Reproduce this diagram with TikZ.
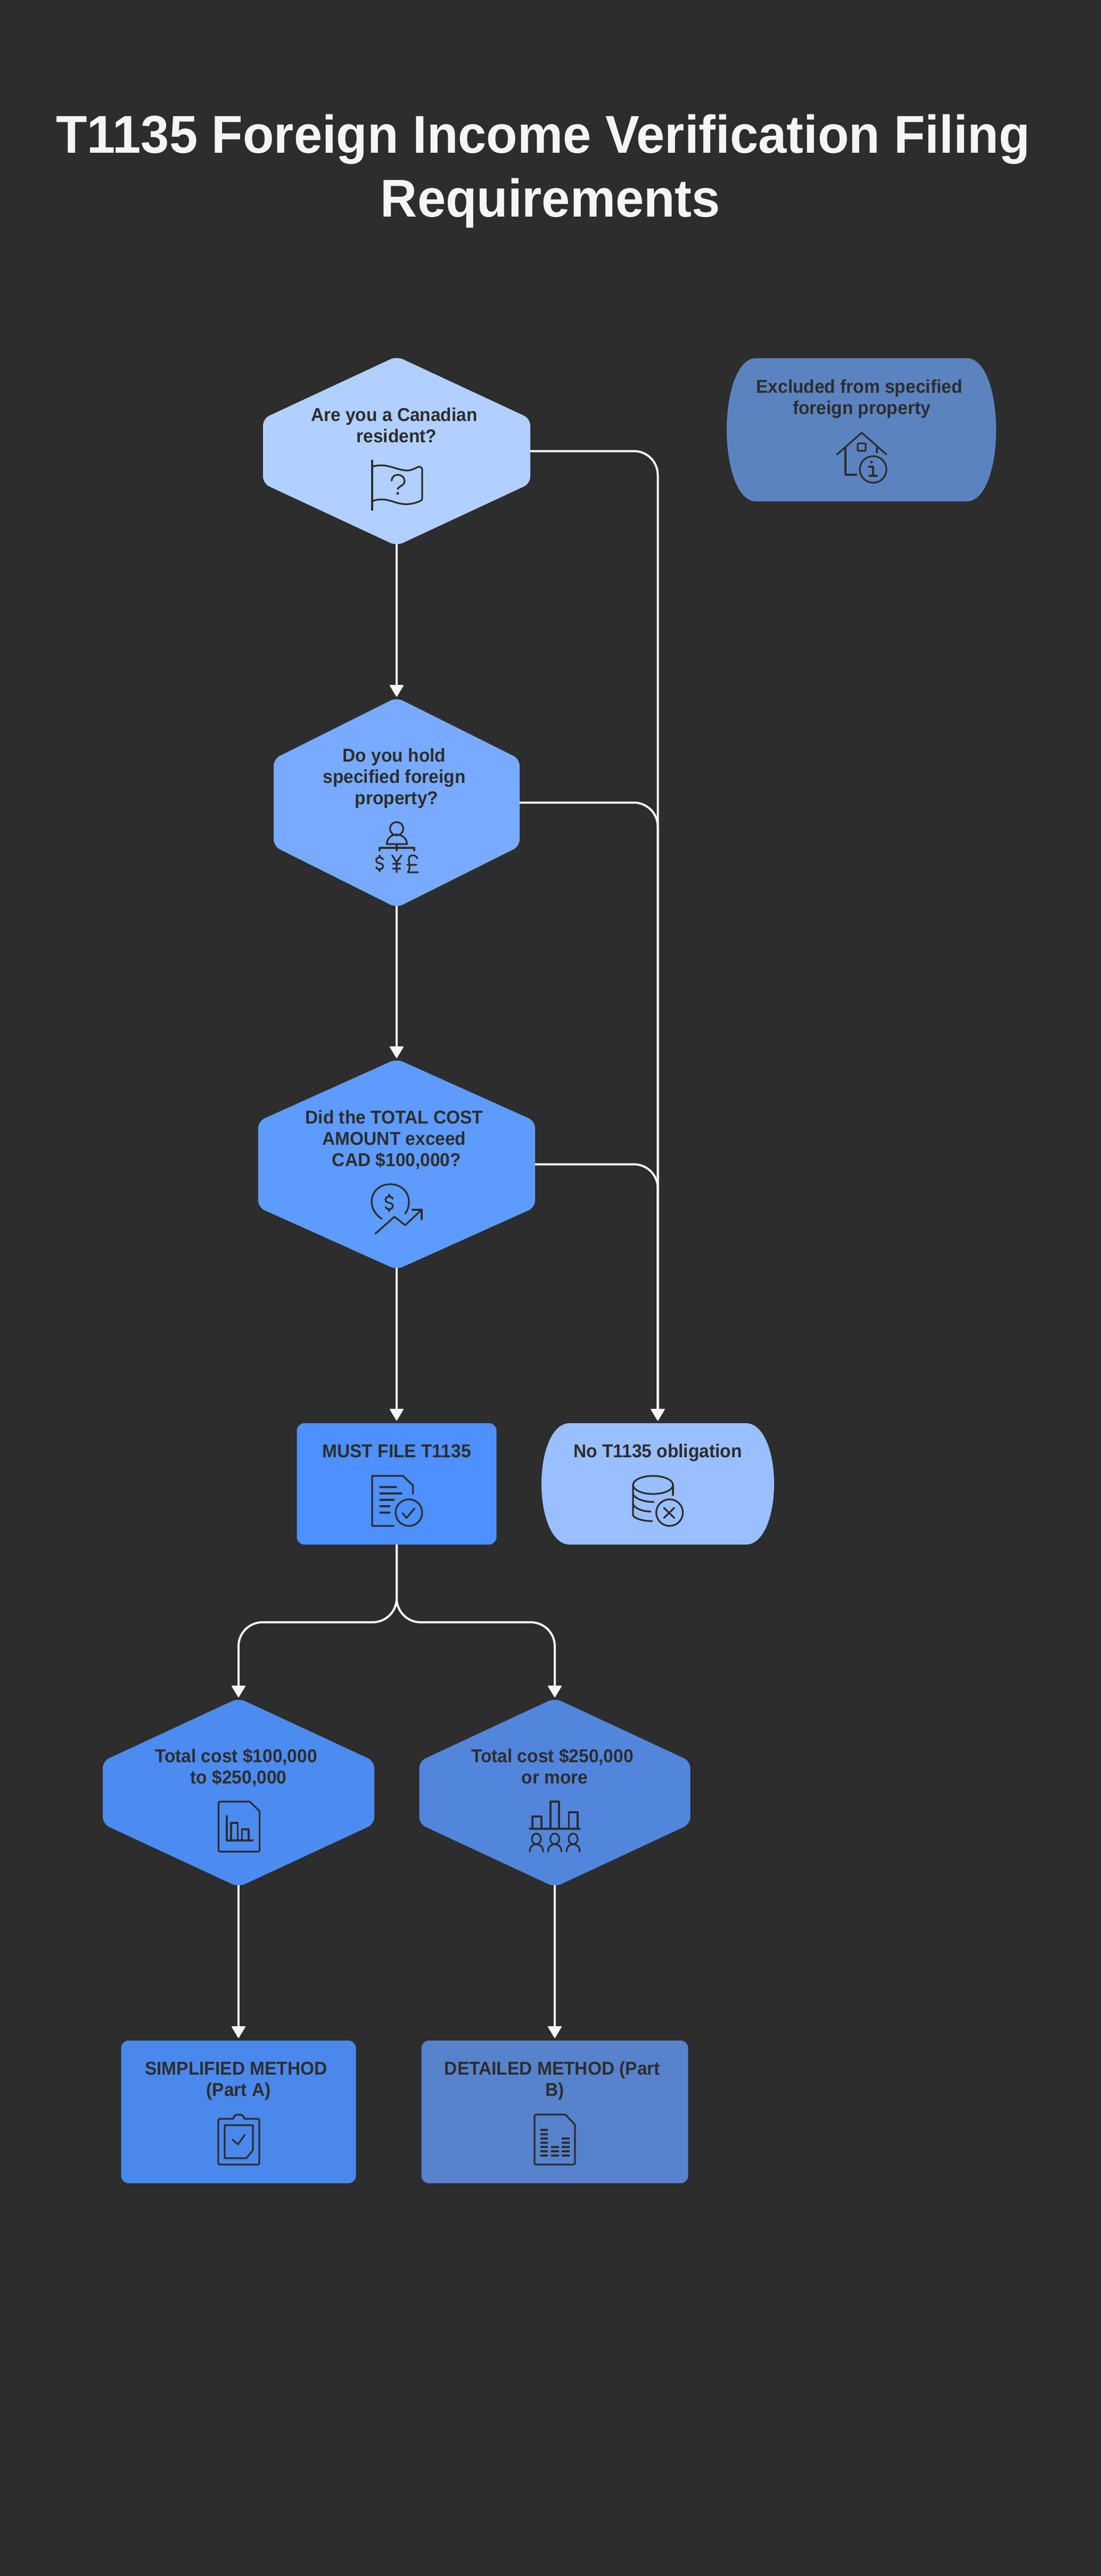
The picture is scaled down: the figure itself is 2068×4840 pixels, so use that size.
\documentclass[tikz,border=0pt]{standalone}
\usepackage{fontspec}
\usetikzlibrary{arrows.meta}
\setmainfont[FakeStretch=0.957]{Liberation Sans}
\definecolor{bgc}{HTML}{2D2D2D}
\definecolor{inkc}{HTML}{2D2D2D}
\definecolor{linec}{HTML}{F5F5F5}
\definecolor{c1}{HTML}{B1D0FF}
\definecolor{c2}{HTML}{78ABFF}
\definecolor{c3}{HTML}{5E9BFF}
\definecolor{cMust}{HTML}{4D90FE}
\definecolor{cNo}{HTML}{99BFFF}
\definecolor{cEx}{HTML}{5B83C0}
\definecolor{c4}{HTML}{4C8BF0}
\definecolor{c5}{HTML}{5285DC}
\definecolor{cSi}{HTML}{4A88EB}
\definecolor{cDe}{HTML}{5782CC}
\newcommand{\stl}{\vrule height 30pt depth 10pt width 0pt}
\newcommand{\stt}{\vrule height 90pt depth 30pt width 0pt}
\newcommand{\tsp}{\rule{9pt}{0pt}}
\tikzset{
  frame/.style={rectangle,inner sep=0pt,outer sep=0pt,draw=none},
  lbl/.style={anchor=north,inner sep=0pt,outer sep=0pt,align=center,text=inkc,font=\fontsize{35}{40}\selectfont\bfseries},
  ttl/.style={anchor=north,inner sep=0pt,outer sep=0pt,align=center,text=linec,font=\fontsize{100}{120}\selectfont\bfseries},
  conn/.style={draw=linec,line width=4pt,shorten >=5pt,-{Triangle[length=23pt,width=27pt,round,line width=2pt]}},
  icon/.style={draw=inkc,line width=3.2pt,line cap=round,line join=round},
}
\newcommand{\hexn}[7]{%
  \fill[#7,rounded corners=13pt] (#2,{#3-#5-3.5}) -- ({#2+#4},{#3-#6}) -- ({#2+#4},{#3+#6}) -- (#2,{#3+#5+3.5}) -- ({#2-#4},{#3+#6}) -- ({#2-#4},{#3-#6}) -- cycle;
  \node[frame,minimum width={2*#4},minimum height={2*#5}] (#1) at (#2,#3) {};}
\newcommand{\boxn}[6]{%
  \node[frame,fill=#6,rounded corners=14pt,minimum width={2*#4},minimum height={2*#5}] (#1) at (#2,#3) {};}
\newcommand{\bulge}[7]{%
  \fill[#7] ({#2-#4+#6},{#3-#5}) -- ({#2+#4-#6},{#3-#5})
    .. controls ({#2+#4-0.35*#6},{#3-#5}) and ({#2+#4},{#3-0.5*#5}) .. ({#2+#4},#3)
    .. controls ({#2+#4},{#3+0.5*#5}) and ({#2+#4-0.35*#6},{#3+#5}) .. ({#2+#4-#6},{#3+#5})
    -- ({#2-#4+#6},{#3+#5})
    .. controls ({#2-#4+0.35*#6},{#3+#5}) and ({#2-#4},{#3+0.5*#5}) .. ({#2-#4},#3)
    .. controls ({#2-#4},{#3-0.5*#5}) and ({#2-#4+0.35*#6},{#3-#5}) .. cycle;
  \node[frame,minimum width={2*#4},minimum height={2*#5}] (#1) at (#2,#3) {};}
\newcommand{\dollarpath}[3]{%
  \begin{scope}[shift={(#1,#2)},scale=#3]
    \draw[icon] (8,-9) .. controls (6,-13) and (3,-14) .. (0,-14) .. controls (-5,-14) and (-8,-11) .. (-8,-7) .. controls (-8,-2) and (-4,-1) .. (0,0) .. controls (4,1) and (8,2) .. (8,7) .. controls (8,11) and (5,14) .. (0,14) .. controls (-3,14) and (-7,13) .. (-8,9);
    \draw[icon] (0,-18) -- (0,-14) (0,14) -- (0,18);
  \end{scope}}
\begin{document}
\begin{tikzpicture}[x=1pt,y=-1pt]
\useasboundingbox (0,0) rectangle (2068,4840);
\fill[bgc] (0,0) rectangle (2068,4840);
% title
\node[ttl] (title) at (1034,197) {\stt T1135 Foreign Income Verification Filing\rule{28pt}{0pt}\\\stt Requirements};
% shapes
\hexn{h1}{745}{847.5}{251}{174.5}{61}{c1}
\hexn{h2}{745}{1508}{231}{194}{82}{c2}
\hexn{h3}{745}{2187.5}{260}{194.5}{81}{c3}
\boxn{must}{745}{2788}{187.5}{114}{cMust}
\bulge{no}{1235.5}{2788}{218.5}{114}{53}{cNo}
\bulge{excl}{1618}{807.5}{253}{134.5}{55}{cEx}
\hexn{h4}{448}{3368}{255}{174}{59}{c4}
\hexn{h5}{1042}{3368}{254.5}{174}{59}{c5}
\boxn{simp}{448}{3968}{220.5}{134}{cSi}
\boxn{det}{1042}{3968}{250.5}{134}{cDe}
% labels
\node[lbl] (t1) at (745,761) {\stl Are you a Canadian\tsp\\\stl resident?};
\node[lbl] (t2) at (745,1401) {\stl Do you hold\tsp\\\stl specified foreign\tsp\\\stl property?};
\node[lbl] (t3) at (745,2081) {\stl Did the TOTAL COST\tsp\\\stl AMOUNT exceed\tsp\\\stl CAD \$100,000?};
\node[lbl] (t4) at (745,2708) {\stl MUST FILE T1135};
\node[lbl] (t5) at (1235.5,2708) {\stl No T1135 obligation};
\node[lbl] (t6) at (1618.5,708) {\stl Excluded from specified\tsp\\\stl foreign property};
\node[lbl] (t7) at (448,3281) {\stl Total cost \$100,000\tsp\\\stl to \$250,000};
\node[lbl] (t8) at (1042,3281) {\stl Total cost \$250,000\tsp\\\stl or more};
\node[lbl] (t9) at (448,3868) {\stl SIMPLIFIED METHOD\tsp\\\stl (Part A)};
\node[lbl] (t10) at (1042,3868) {\stl DETAILED METHOD (Part\tsp\\\stl B)};
% connectors
\coordinate (rail) at (1235.5,0);
\coordinate (forky) at (0,3048);
\draw[conn] (h1.south) -- (h2.north);
\draw[conn] (h2.south) -- (h3.north);
\draw[conn] (h3.south) -- (must.north);
\draw[conn,rounded corners=45pt] (h1.east) -- (h1.east -| rail) -- (no.north);
\draw[conn,rounded corners=45pt] (h2.east) -- (h2.east -| rail) -- (no.north);
\draw[conn,rounded corners=45pt] (h3.east) -- (h3.east -| rail) -- (no.north);
\draw[conn,rounded corners=45pt] (must.south) -- (must.south |- forky) -- (h4.north |- forky) -- (h4.north);
\draw[conn,rounded corners=45pt] (must.south) -- (must.south |- forky) -- (h5.north |- forky) -- (h5.north);
\draw[conn] (h4.south) -- (simp.north);
\draw[conn] (h5.south) -- (det.north);
% icon: flag
\draw[icon] (699,865) -- (699,958);
\draw[icon] (699,877) .. controls (725,868) and (745,884) .. (765,884) .. controls (776,884) and (784,876) .. (789,877) .. controls (792,878) and (793,880) .. (793,883) -- (793,936) .. controls (793,939) and (792,940) .. (790,941) .. controls (770,950) and (755,948) .. (740,943) .. controls (725,938) and (712,936) .. (699,942);
\draw[icon] (735.5,903) .. controls (736,896) and (741,892) .. (747,892) .. controls (755,892) and (760,898) .. (760,904) .. controls (760,912) and (748,914) .. (747,919);
\fill[inkc] (747,927) circle (2.6);
% icon: house
\draw[icon] (1572,854) -- (1618.6,813) -- (1665,854);
\draw[icon] (1588,842) -- (1588,892) -- (1608.6,892);
\draw[icon,rounded corners=2pt] (1611,833) rectangle (1626,847);
\draw[icon] (1647,842) -- (1647,850);
\draw[icon] (1640,882) circle (25);
\fill[inkc] (1637,868) circle (2.6);
\draw[icon] (1632,877) -- (1640,877) -- (1640,894) (1633,894) -- (1647,894);
% icon: person and currencies
\draw[icon] (745,1557) circle (12.5);
\draw[icon] (726.4,1586) .. controls (727,1575) and (735,1568) .. (745,1568) .. controls (755,1568) and (764,1575) .. (764.6,1586) -- cycle;
\draw[icon] (745,1586) -- (745,1598);
\draw[icon] (713,1598) -- (713,1593) -- (778,1593) -- (778,1598);
\dollarpath{713}{1622}{0.8}
\draw[icon] (736.4,1607) -- (745,1620) -- (754,1607) (745,1620) -- (745,1639) (738,1623) -- (752,1623) (738,1632) -- (752,1632);
\draw[icon] (784,1613) .. controls (782,1608) and (778,1607) .. (775,1607) .. controls (770,1607) and (767,1611) .. (768,1617) .. controls (769,1625) and (771,1632) .. (766,1639) -- (785,1639) (765,1625) -- (782,1625);
% icon: coin and trend
\draw[icon] (717,2290) .. controls (705,2282) and (698,2270) .. (698,2258) .. controls (698,2238) and (714,2225) .. (733,2225) .. controls (752,2225) and (768,2238) .. (768,2258) .. controls (768,2266) and (766,2274) .. (761,2280);
\dollarpath{731}{2260}{0.85}
\draw[icon] (705,2318) -- (741,2286) -- (761,2302) -- (792,2273);
\draw[icon] (774.6,2273) -- (792,2273) -- (792,2291);
% icon: document check
\draw[icon] (739.6,2867) -- (699,2867) -- (699,2773) -- (757,2773) -- (775.6,2791) -- (775.6,2807);
\draw[icon] (714,2794) -- (744,2794) (714,2806) -- (754,2806) (714,2818) -- (740,2818) (714,2830) -- (732,2830) (714,2842) -- (732,2842);
\draw[icon] (768,2842) circle (25);
\draw[icon] (756,2843) -- (763.6,2852) -- (778.6,2834);
% icon: database cross
\draw[icon] (1226.5,2790) ellipse (37.5 and 17);
\draw[icon] (1189,2790) -- (1189,2847) .. controls (1191,2853) and (1208,2858) .. (1225,2858);
\draw[icon] (1264,2790) -- (1264,2809);
\draw[icon] (1189,2807) .. controls (1192,2816) and (1210,2822) .. (1228,2822);
\draw[icon] (1189,2826) .. controls (1192,2834) and (1207,2840) .. (1222,2840);
\draw[icon] (1257.6,2842) circle (25);
\draw[icon] (1247,2833) -- (1266.6,2852) (1266.6,2833) -- (1247,2852);
% icon: document chart
\draw[icon,rounded corners=3pt] (469,3385) -- (410.5,3385) -- (410.5,3479) -- (487.6,3479) -- (487.6,3403);
\draw[icon] (469,3385) -- (487.6,3403);
\draw[icon] (426,3412) -- (426,3458) -- (474.4,3458);
\draw[icon] (434,3458) -- (434,3425) -- (446.5,3425) -- (446.5,3458);
\draw[icon] (454.6,3458) -- (454.6,3437) -- (467,3437) -- (467,3458);
% icon: bars and people
\draw[icon] (1000,3436) -- (1000,3413) -- (1017,3413) -- (1017,3436);
\draw[icon] (1034,3436) -- (1034,3385) -- (1050,3385) -- (1050,3436);
\draw[icon] (1068.4,3436) -- (1068.4,3405) -- (1085,3405) -- (1085,3436);
\draw[icon] (995,3436) -- (1089,3436);
\foreach \px in {1007.5,1042,1076.5}{
  \draw[icon] (\px,3455) ellipse (8.5 and 10);
  \draw[icon] ({\px-12.5},3479) .. controls ({\px-12.5},3470) and ({\px-7},3465) .. (\px,3465) .. controls ({\px+7},3465) and ({\px+12.5},3470) .. ({\px+12.5},3479);
}
% icon: clipboard check
\draw[icon] (438,3981) .. controls (439,3975) and (443,3973) .. (448.5,3973) .. controls (454,3973) and (458,3975) .. (459,3981) -- (485,3981) -- (487,3983) -- (487,4065) -- (485,4067) -- (412,4067) -- (410,4065) -- (410,3983) -- (412,3981) -- cycle;
\draw[icon] (422,3993) -- (475,3993) -- (475,4040) -- (462.5,4055) -- (422,4055) -- cycle;
\draw[icon] (436.6,4020) -- (447,4029) -- (460,4011);
% icon: document with level bars
\draw[icon,rounded corners=3pt] (1062,3973) -- (1004,3973) -- (1004,4067) -- (1080,4067) -- (1080,3992);
\draw[icon] (1062,3973) -- (1080,3992);
\foreach \dy in {4001.7,4010,4018,4026,4034,4042,4050}{\draw[icon,line cap=butt,line width=3.6pt] (1015,\dy) -- (1029,\dy);}
\foreach \dy in {4034,4042,4050}{\draw[icon,line cap=butt,line width=3.6pt] (1035,\dy) -- (1050,\dy);}
\foreach \dy in {4018,4026,4034,4042,4050}{\draw[icon,line cap=butt,line width=3.6pt] (1055,\dy) -- (1070,\dy);}
\end{tikzpicture}
\end{document}
